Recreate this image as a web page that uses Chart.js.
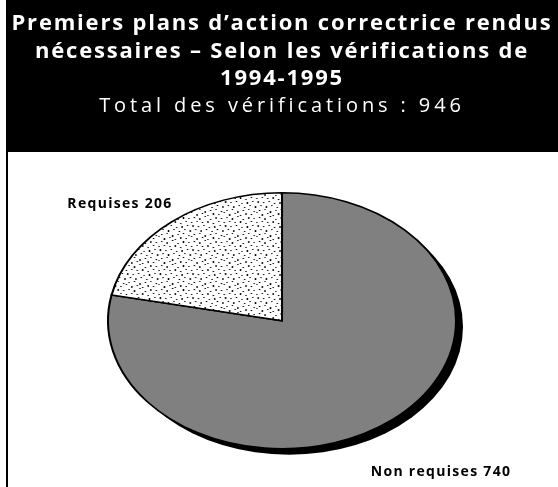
<!DOCTYPE html>
<html>
<head>
<meta charset="utf-8">
<script src="https://cdn.jsdelivr.net/npm/chart.js@4.4.0/dist/chart.umd.min.js"></script>
<style>
  html, body { margin: 0; padding: 0; background: #fff; }
  #wrap { position: relative; width: 558px; height: 487px; }
</style>
</head>
<body>
<div id="wrap"><canvas id="c" width="558" height="487"></canvas></div>
<script>
// ---- data ----
const categories = ['Non requises', 'Requises'];
const values = [740, 206];
const titleLines = [
  'Premiers plans d\u2019action correctrice rendus',
  'n\u00e9cessaires \u2013 Selon les v\u00e9rifications de',
  '1994-1995'
];
const subtitleText = 'Total des v\u00e9rifications : 946';

// ---- style ----
const FONT = '"Open Sans", "Noto Sans", sans-serif';
const GREY = '#808080';
const ELLIPSE_SX = 174 / 128;           // horizontal stretch of the pie
const SHADOW = { dx: 7, dy: 6 };
const HEADER_H = 152;
const LEFT_MARGIN = 6;
const labelOffsets = [[159, 151], [-162, -117]];

// stipple pattern (fixed speck layout)
function makeStipple() {
  const S = 24;
  const t = document.createElement('canvas');
  t.width = S; t.height = S;
  const g = t.getContext('2d');
  g.fillStyle = '#fff';
  g.fillRect(0, 0, S, S);
  g.fillStyle = '#000';
  const specks = [
    [1,1,1,1],[5,2,1,2],[9,0,1,1],[13,3,1,1],[17,1,1,2],[21,2,1,1],
    [3,5,1,1],[7,6,1,1],[11,5,1,2],[15,7,1,1],[19,5,1,1],[23,6,1,1],
    [0,9,1,2],[4,10,1,1],[8,9,1,1],[12,11,1,1],[16,10,1,2],[20,9,1,1],
    [2,13,1,1],[6,14,1,2],[10,13,1,1],[14,15,1,1],[18,13,1,1],[22,14,1,2],
    [1,18,1,1],[5,17,1,1],[9,19,1,2],[13,18,1,1],[17,17,1,1],[21,19,1,1],
    [3,22,1,2],[7,21,1,1],[11,23,1,1],[15,21,1,2],[19,22,1,1],[23,20,1,1]
  ];
  specks.forEach(s => g.fillRect(s[0], s[1], s[2], s[3]));
  return g.createPattern(t, 'repeat');
}
const stipple = makeStipple();

const frame = {
  id: 'frame',
  afterLayout(chart) {
    chart.boxes.forEach(b => {
      if (b.options && b.options.text === subtitleText && !b._wrapped) {
        const orig = b.draw;
        b.draw = function () {
          chart.ctx.letterSpacing = '3.9px';
          orig.apply(this, arguments);
          chart.ctx.letterSpacing = '1.8px';
        };
        b._wrapped = true;
      }
    });
  },
  beforeDraw(chart) {
    const ctx = chart.ctx;
    ctx.letterSpacing = '1.8px';
    ctx.save();
    ctx.fillStyle = '#000';
    ctx.fillRect(LEFT_MARGIN, 0, chart.width - LEFT_MARGIN, HEADER_H);
    ctx.fillRect(LEFT_MARGIN, HEADER_H, 2, chart.height - HEADER_H);
    ctx.restore();
  },
  beforeDatasetsDraw(chart) {
    const ctx = chart.ctx;
    const arc = chart.getDatasetMeta(0).data[0];
    const { x, y, outerRadius } = arc;
    ctx.save();
    ctx.fillStyle = '#000';
    ctx.beginPath();
    ctx.ellipse(x + SHADOW.dx, y + SHADOW.dy, outerRadius * ELLIPSE_SX, outerRadius, 0, 0, Math.PI * 2);
    ctx.fill();
    ctx.restore();
    ctx.save();
    ctx.translate(x, y);
    ctx.scale(ELLIPSE_SX, 1);
    ctx.translate(-x, -y);
  },
  afterDatasetsDraw(chart) {
    chart.ctx.restore();
  },
  afterDraw(chart) {
    const ctx = chart.ctx;
    const arc = chart.getDatasetMeta(0).data[0];
    ctx.save();
    ctx.letterSpacing = '1.3px';
    ctx.font = 'bold 14px ' + FONT;
    ctx.fillStyle = '#000';
    ctx.textAlign = 'center';
    ctx.textBaseline = 'middle';
    categories.forEach((c, i) => {
      ctx.fillText(c + ' ' + values[i], arc.x + labelOffsets[i][0], arc.y + labelOffsets[i][1]);
    });
    ctx.restore();
  }
};

new Chart(document.getElementById('c'), {
  type: 'pie',
  data: {
    labels: categories,
    datasets: [{
      data: values,
      backgroundColor: [GREY, stipple],
      borderColor: '#000',
      borderWidth: 1.5,
      borderJoinStyle: 'miter',
      hoverOffset: 0,
      clip: false
    }]
  },
  options: {
    responsive: false,
    animation: false,
    events: [],
    layout: { padding: { left: LEFT_MARGIN, right: 0, top: 0, bottom: 37.5 } },
    plugins: {
      legend: { display: false },
      tooltip: { enabled: false },
      title: {
        display: true,
        text: titleLines,
        color: '#fff',
        font: { family: FONT, size: 22, weight: 'bold', lineHeight: 1.25 },
        padding: { top: 10, bottom: 0 }
      },
      subtitle: {
        display: true,
        text: subtitleText,
        color: '#fff',
        font: { family: FONT, size: 20, weight: 'normal', lineHeight: 1.35 },
        padding: { top: 0, bottom: 72.5 }
      }
    }
  },
  plugins: [frame]
});
</script>
</body>
</html>
